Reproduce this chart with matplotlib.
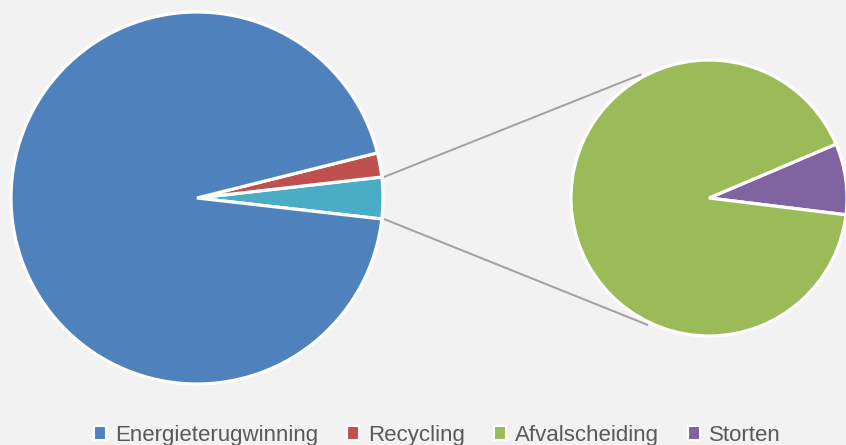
import numpy as np
import matplotlib.pyplot as plt
from matplotlib.patches import Patch

# Shares (%) of waste processing
labels = ['Energieterugwinning', 'Recycling', 'Afvalscheiding', 'Storten']
values = [94.3, 2.1, 3.3, 0.3]
colors = ['#4f81bd', '#c0504d', '#9bbb59', '#8064a2']
other_color = '#4bacc6'

bg = '#f2f2f2'
fig = plt.figure(figsize=(8.46, 4.45), dpi=100, facecolor=bg)
ax = fig.add_axes([0, 0, 1, 1])
ax.set_facecolor(bg)

# geometry (pixels, y up)
c1, r1 = (197, 247), 186
c2, r2 = (709, 247), 138

other = values[2] + values[3]
total = values[0] + values[1] + other
other_deg = other / total * 360
start1 = -other_deg / 2

wp = dict(edgecolor='white', linewidth=2.3, joinstyle='miter')
ax.pie([other, values[1], values[0]], colors=[other_color, colors[1], colors[0]],
       center=c1, radius=r1, startangle=start1, counterclock=True,
       wedgeprops=wp)

start2 = -7.0
ax.pie([values[3], values[2]], colors=[colors[3], colors[2]],
       center=c2, radius=r2, startangle=start2, counterclock=True,
       wedgeprops=wp)

# connector lines from the "other" slice to the secondary pie
for a1, a2 in [(-start1, 119.0), (start1, 244.0)]:
    p1 = (c1[0] + (r1 + 3) * np.cos(np.radians(a1)), c1[1] + (r1 + 3) * np.sin(np.radians(a1)))
    p2 = (c2[0] + (r2 + 3) * np.cos(np.radians(a2)), c2[1] + (r2 + 3) * np.sin(np.radians(a2)))
    ax.plot([p1[0], p2[0]], [p1[1], p2[1]], color='#a0a0a0', lw=1.4, zorder=0)

ax.set_xlim(0, 846)
ax.set_ylim(0, 445)
ax.set_aspect('equal')
ax.axis('off')

handles = [Patch(facecolor=c, edgecolor='white', linewidth=1.5) for c in colors]
leg = fig.legend(handles, labels, ncol=4, loc='center', bbox_to_anchor=(0.517, 0.022),
                 frameon=False, handlelength=0.55, handleheight=0.55,
                 handletextpad=0.4, columnspacing=1.3,
                 prop={'family': ['Liberation Sans', 'DejaVu Sans'], 'size': 16})
for t in leg.get_texts():
    t.set_color('#595959')

fig.savefig('out.png', dpi=100, facecolor=bg)
